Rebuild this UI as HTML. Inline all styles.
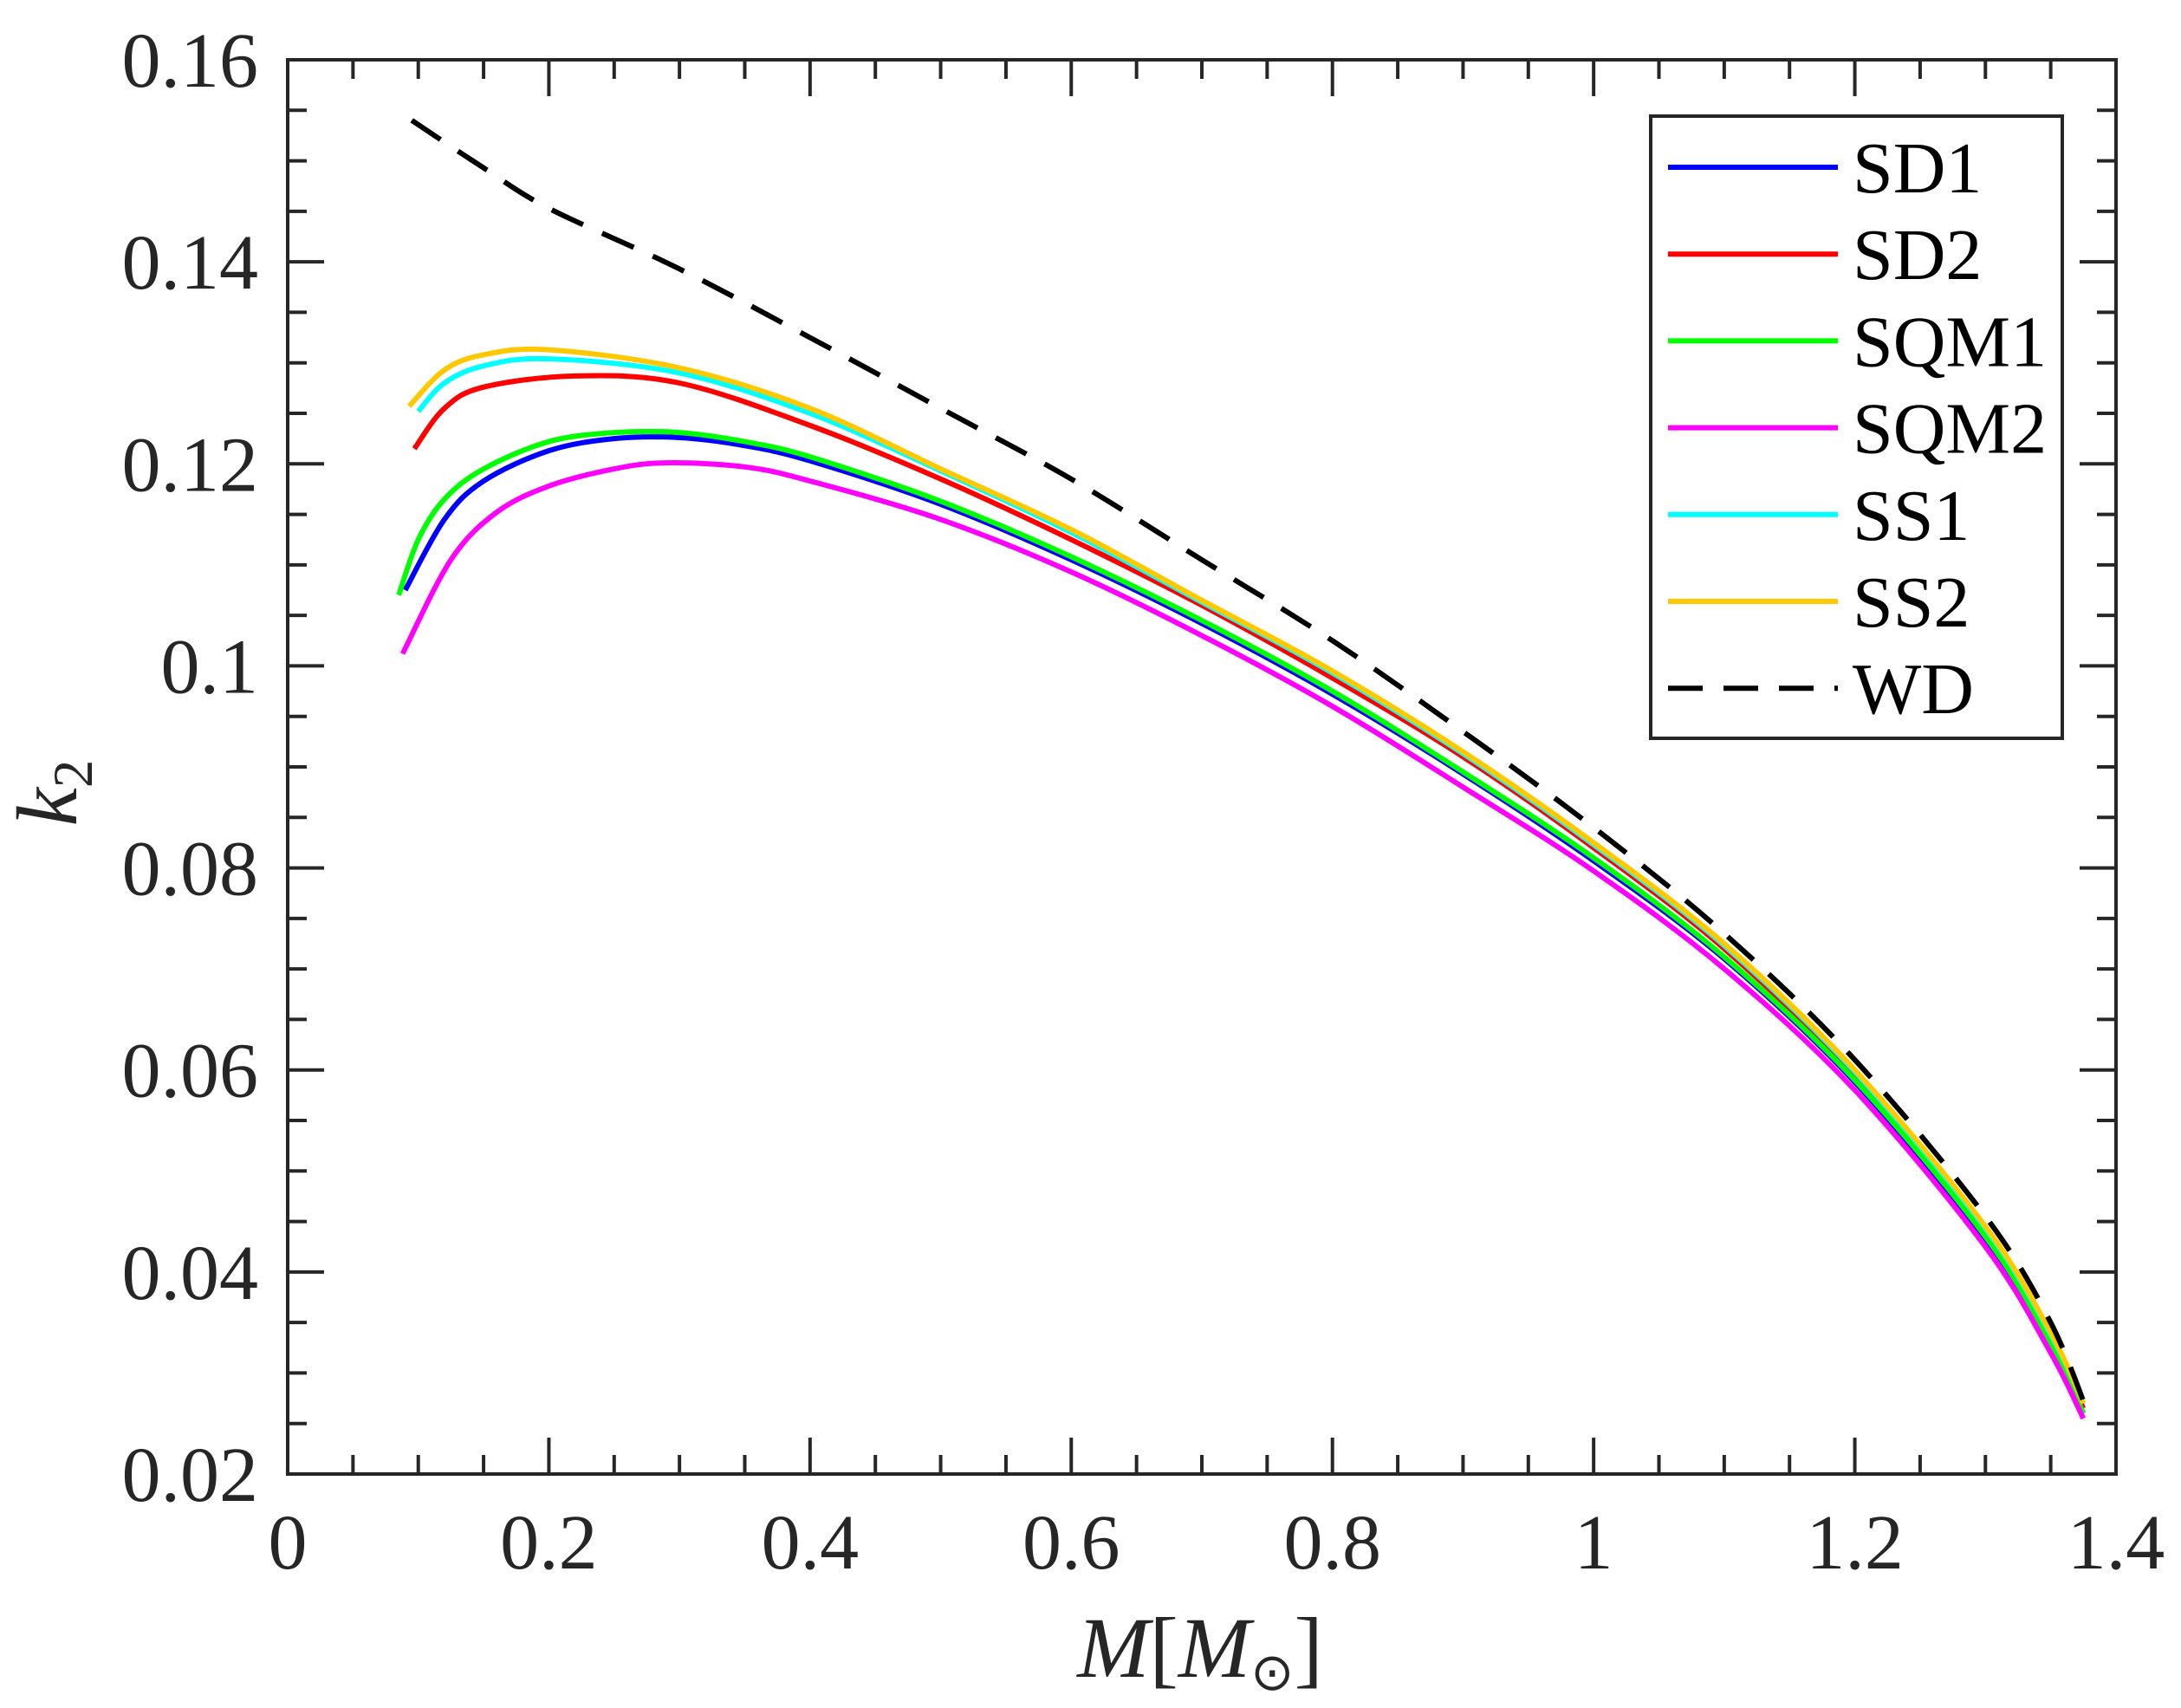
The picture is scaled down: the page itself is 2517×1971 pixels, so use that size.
<!DOCTYPE html>
<html><head><meta charset="utf-8"><style>
html,body{margin:0;padding:0;background:#fff}
svg{display:block}
text{font-family:"Liberation Serif",serif;fill:#262626}
</style></head><body>
<svg id="chart" width="2517" height="1971" viewBox="0 0 2517 1971" xmlns="http://www.w3.org/2000/svg">
<g id="series"></g>
<g id="axes"></g>
<g id="legend"></g>
<text x="1385" y="1935" font-size="100" text-anchor="middle"><tspan font-style="italic">M</tspan>[<tspan font-style="italic">M</tspan><tspan font-size="60" dy="15">⊙</tspan><tspan dy="-15">]</tspan></text>
<text transform="translate(88,915) rotate(-90)" font-size="100" text-anchor="middle"><tspan font-style="italic">k</tspan><tspan font-size="65" dy="18">2</tspan></text>
</svg>
<script>
const xTicks=[0,0.2,0.4,0.6,0.8,1,1.2,1.4];
const xTickLabels=["0","0.2","0.4","0.6","0.8","1","1.2","1.4"];
const yTicks=[0.02,0.04,0.06,0.08,0.1,0.12,0.14,0.16];
const yTickLabels=["0.02","0.04","0.06","0.08","0.1","0.12","0.14","0.16"];
const seriesNames=["SD1","SD2","SQM1","SQM2","SS1","SS2","WD"];
const seriesColors=["#0000ff","#ff0000","#00ff00","#ff00ff","#00ffff","#ffc800","#000000"];
const sd1M=[0.09,0.12,0.15,0.2,0.25,0.3,0.35,0.4,0.5,0.6,0.7,0.8,0.9,1.0,1.1,1.2,1.3,1.35,1.375];
const sd1K=[0.1075,0.1145,0.1183,0.1213,0.1225,0.1226,0.1218,0.1203,0.116,0.1105,0.1042,0.0972,0.0893,0.0807,0.071,0.0588,0.0433,0.0328,0.026];
const sd2M=[0.097,0.12,0.15,0.22,0.3,0.4,0.5,0.6,0.7,0.8,0.9,1.0,1.1,1.2,1.3,1.35,1.375];
const sd2K=[0.1215,0.1255,0.1276,0.1287,0.128,0.1238,0.1185,0.1125,0.106,0.0988,0.091,0.082,0.072,0.0595,0.044,0.0335,0.0265];
const sqm1M=[0.085,0.1,0.12,0.15,0.2,0.25,0.3,0.35,0.4,0.5,0.6,0.7,0.8,0.9,1.0,1.1,1.2,1.3,1.35,1.375];
const sqm1K=[0.107,0.1125,0.1165,0.1195,0.1222,0.1231,0.1231,0.1222,0.1207,0.1163,0.1108,0.1045,0.0975,0.0895,0.081,0.0712,0.059,0.0435,0.033,0.026];
const sqm2M=[0.088,0.125,0.16,0.2,0.25,0.29,0.35,0.4,0.5,0.6,0.7,0.8,0.9,1.0,1.1,1.2,1.3,1.35,1.375];
const sqm2K=[0.1012,0.1105,0.1152,0.1178,0.1195,0.1201,0.1197,0.1183,0.1145,0.1093,0.103,0.096,0.088,0.0797,0.07,0.058,0.0425,0.032,0.0255];
const ss1M=[0.1,0.12,0.15,0.2,0.3,0.4,0.5,0.6,0.7,0.8,0.9,1.0,1.1,1.2,1.3,1.35,1.375];
const ss1K=[0.1252,0.128,0.1297,0.1304,0.129,0.125,0.1193,0.1132,0.1063,0.0993,0.0913,0.0823,0.0723,0.0598,0.0443,0.0338,0.027];
const ss2M=[0.093,0.12,0.15,0.2,0.3,0.4,0.5,0.6,0.7,0.8,0.9,1.0,1.1,1.2,1.3,1.35,1.375];
const ss2K=[0.1257,0.1293,0.1308,0.1313,0.1295,0.1255,0.1195,0.1135,0.1065,0.0995,0.0915,0.0825,0.0725,0.06,0.0445,0.034,0.027];
const wdM=[0.095,0.15,0.2,0.3,0.4,0.5,0.6,0.7,0.8,0.9,1.0,1.1,1.2,1.3,1.35,1.38];
const wdK=[0.154,0.1493,0.1453,0.1393,0.1325,0.1255,0.1185,0.1105,0.1025,0.0935,0.084,0.0735,0.061,0.0455,0.035,0.0255];

const NS="http://www.w3.org/2000/svg";
const L=332,R=2442,T=69,B=1701;
const X0=0,X1=1.4,Y0=0.02,Y1=0.16;
function sx(v){return L+(v-X0)/(X1-X0)*(R-L);}
function sy(v){return B-(v-Y0)/(Y1-Y0)*(B-T);}
function mk(tag,attrs,parent){const e=document.createElementNS(NS,tag);for(const k in attrs)e.setAttribute(k,attrs[k]);parent.appendChild(e);return e;}

function pathD(ms,ks){
  const p=ms.map((m,i)=>[sx(m),sy(ks[i])]);
  let d="M"+p[0][0].toFixed(1)+","+p[0][1].toFixed(1);
  for(let i=0;i<p.length-1;i++){
    const p0=p[i-1]||p[i],p1=p[i],p2=p[i+1],p3=p[i+2]||p[i+1];
    const c1=[p1[0]+(p2[0]-p0[0])/6,p1[1]+(p2[1]-p0[1])/6];
    const c2=[p2[0]-(p3[0]-p1[0])/6,p2[1]-(p3[1]-p1[1])/6];
    d+="C"+c1[0].toFixed(1)+","+c1[1].toFixed(1)+" "+c2[0].toFixed(1)+","+c2[1].toFixed(1)+" "+p2[0].toFixed(1)+","+p2[1].toFixed(1);
  }
  return d;
}
const sg=document.getElementById('series');
const allM=[sd1M,sd2M,sqm1M,sqm2M,ss1M,ss2M,wdM];
const allK=[sd1K,sd2K,sqm1K,sqm2K,ss1K,ss2K,wdK];
for(let i=0;i<7;i++){
  const el=mk('path',{d:pathD(allM[i],allK[i]),fill:'none',stroke:seriesColors[i],'stroke-width':6,'stroke-linejoin':'round'},sg);
  if(i===6){el.setAttribute('stroke-dasharray','40 24');}
  
  
}

const ag=document.getElementById('axes');
const box=mk('rect',{x:L,y:T,width:R-L,height:B-T,fill:'none',stroke:'#262626','stroke-width':4},ag);


const MAJ=42,MIN=22;
for(let i=0;i<=28;i++){
  const v=i*0.05, x=sx(v), len=(i%4===0)?MAJ:MIN;
  const t1=mk('line',{x1:x,y1:B,x2:x,y2:B-len,stroke:'#262626','stroke-width':4},ag);
  
  
  const t2=mk('line',{x1:x,y1:T,x2:x,y2:T+len,stroke:'#262626','stroke-width':4},ag);
  
  
}
for(let i=0;i<=28;i++){
  const v=0.02+i*0.005, y=sy(v), len=(i%4===0)?MAJ:MIN;
  const t1=mk('line',{x1:L,y1:y,x2:L+len,y2:y,stroke:'#262626','stroke-width':4},ag);
  
  
  const t2=mk('line',{x1:R,y1:y,x2:R-len,y2:y,stroke:'#262626','stroke-width':4},ag);
  
  
}
xTicks.forEach((v,i)=>{
  const t=mk('text',{x:sx(v),y:1810,'font-size':90,'text-anchor':'middle'},ag);
  t.textContent=xTickLabels[i];
  
  
});
yTicks.forEach((v,i)=>{
  const t=mk('text',{x:298,y:sy(v)+31,'font-size':90,'text-anchor':'end'},ag);
  t.textContent=yTickLabels[i];
  
  
});

const lg=document.getElementById('legend');
const lb=mk('rect',{x:1905,y:134,width:475,height:718,fill:'#fff',stroke:'#262626','stroke-width':4},lg);


seriesNames.forEach((n,i)=>{
  const y=193+i*100.2;
  const g=mk('g',{},lg);
  
  
  const ln=mk('line',{x1:1925,y1:y,x2:2121,y2:y,stroke:seriesColors[i],'stroke-width':6},g);
  if(i===6)ln.setAttribute('stroke-dasharray','40 24');
  
  
  const t=mk('text',{x:2138,y:y+29,'font-size':84},g);
  t.textContent=n;
  t.style.fill='#000';
  
  
});
</script>
</body></html>
